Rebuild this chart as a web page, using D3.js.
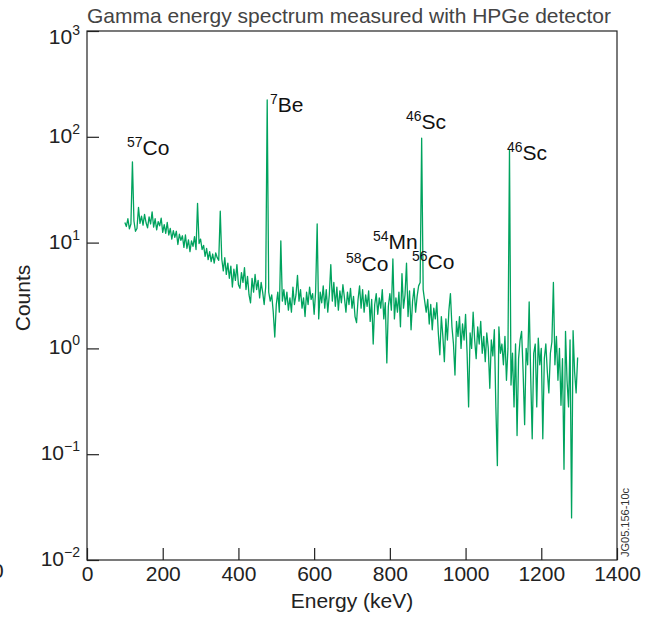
<!DOCTYPE html>
<html>
<head>
<meta charset="utf-8">
<script src="https://cdn.jsdelivr.net/npm/d3@7"></script>
<style>
  html, body { margin: 0; padding: 0; background: #fff; }
  svg { display: block; font-family: "Liberation Sans", Arial, Helvetica, sans-serif; }
</style>
</head>
<body>
<svg id="chart" width="653" height="617"></svg>
<script>
// ---------- data ----------
const energies = [
  100,104,108,112,116,120,124,128,132,136,140,144,148,152,156,160,164,168,172,176,
  180,184,188,192,196,200,204,208,212,216,220,224,228,232,236,240,244,248,252,256,
  260,264,268,272,276,280,284,288,292,296,300,304,308,312,316,320,324,328,332,336,
  340,344,348,352,356,360,364,368,372,376,380,384,388,392,396,400,404,408,412,416,
  420,424,428,432,436,440,444,448,452,456,460,464,468,472,476,480,484,488,492,496,
  500,504,508,512,516,520,524,528,532,536,540,544,548,552,556,560,564,568,572,576,
  580,584,588,592,596,600,604,608,612,616,620,624,628,632,636,640,644,648,652,656,
  660,664,668,672,676,680,684,688,692,696,700,704,708,712,716,720,724,728,732,736,
  740,744,748,752,756,760,764,768,772,776,780,784,788,792,796,800,804,808,812,816,
  820,824,828,832,836,840,844,848,852,856,860,864,868,872,876,880,884,888,892,896,
  900,904,908,912,916,920,924,928,932,936,940,944,948,952,956,960,964,968,972,976,
  980,984,988,992,996,1000,1004,1008,1012,1016,1020,1024,1028,1032,1036,1040,1044,1048,1052,1056,
  1060,1064,1068,1072,1076,1080,1084,1088,1092,1096,1100,1104,1108,1112,1116,1120,1124,1128,1132,1136,
  1140,1144,1148,1152,1156,1160,1164,1168,1172,1176,1180,1184,1188,1192,1196,1200,1204,1208,1212,1216,
  1220,1224,1228,1232,1236,1240,1244,1248,1252,1256,1260,1264,1268,1272,1276,1280,1284,1288,1292,1296
];
const counts = [
  15.5,14.2,16.8,13.5,15.0,58,16.0,12.8,13.6,21.5,
  15.2,17.8,14.6,18.5,15.4,13.8,17.5,15.0,19.5,14.0,
  16.8,13.2,15.8,14.4,17.0,12.5,14.8,12.2,15.5,11.8,
  13.6,10.8,13.0,11.2,12.8,9.6,12.0,10.5,11.6,9.0,
  11.8,8.8,10.6,8.2,10.4,9.2,11.4,8.6,23.5,9.8,
  10.8,8.6,9.4,7.4,8.8,6.9,8.2,6.6,7.8,6.4,
  8.0,7.2,6.8,19.8,7.0,5.4,7.2,5.0,6.4,4.6,
  6.0,3.8,5.6,4.4,6.2,4.0,3.7,5.2,4.2,5.8,
  3.6,4.8,3.2,2.7,4.6,3.4,5.0,3.6,4.4,3.0,
  4.2,3.4,2.6,3.8,223,3.4,2.8,3.2,2.2,1.28,
  2.6,3.4,2.2,10.4,2.8,
  3.6,2.6,3.4,2.3,3.0,2.2,3.8,2.6,3.2,4.9,
  2.8,3.6,2.4,3.0,2.0,3.4,2.6,3.8,2.9,3.3,
  2.1,3.5,15.0,1.9,3.4,2.7,3.9,2.4,3.6,2.2,
  3.2,6.2,2.8,4.2,2.5,3.8,2.3,3.5,2.7,4.0,
  3.0,2.2,3.4,2.6,3.7,2.4,3.1,2.0,1.75,2.9,
  3.9,2.4,3.6,2.2,3.2,2.5,3.5,1.8,2.9,1.1,
  2.6,3.3,2.1,3.0,2.4,3.6,1.9,2.7,0.73,2.5,
  3.3,2.3,7.0,1.9,
  3.0,2.2,3.4,1.6,5.1,2.4,3.2,6.4,2.0,3.5,
  1.5,2.8,3.7,2.2,3.1,3.9,4.2,97,3.6,2.8,
  2.2,2.9,1.7,2.6,1.5,2.4,1.9,2.7,1.4,0.87,
  2.0,1.3,0.75,1.9,1.2,2.3,3.3,1.6,1.1,0.56,
  1.8,1.3,2.0,1.0,1.7,1.2,2.1,0.9,0.28,1.4,
  1.0,2.2,1.2,0.8,1.6,1.1,1.8,0.9,1.3,0.75,
  1.4,1.0,0.42,1.2,0.85,1.5,0.28,0.078,1.6,0.9,
  1.1,0.7,1.3,0.5,1.0,75,0.45,
  0.9,0.28,1.1,0.15,0.8,1.2,1.45,0.6,0.19,1.0,
  0.7,2.75,0.55,0.14,0.9,1.1,0.28,1.25,0.7,1.0,
  0.14,0.8,1.1,0.6,0.38,0.9,1.15,4.2,0.7,1.3,
  0.5,1.0,0.29,0.8,0.072,1.45,0.5,0.28,1.2,0.025,
  1.47,0.6,0.38,0.82
];
const xTicks = [0, 200, 400, 600, 800, 1000, 1200, 1400];
const yTicks = [1e-2, 1e-1, 1e0, 1e1, 1e2, 1e3];
const labelSup  = ["57", "7", "46", "46", "54", "58", "56"];
const labelName = ["Co", "Be", "Sc", "Sc", "Mn", "Co", "Co"];
// annotation layout (pixel position of each label's left edge and baseline)
const labelPos = [[127, 155], [270, 112], [406, 129], [507, 160], [373, 249], [346, 271], [412, 269]];

// ---------- layout ----------
const svg = d3.select("#chart");
const L = 87, R = 617, T = 31, B = 560;
const x = d3.scaleLinear().domain([0, 1400]).range([L, R]);
const y = d3.scaleLog().domain([0.01, 1000]).range([B, T]);
const ink = "#222";
const green = "#00a35e";

// title
svg.append("text").attr("x", L).attr("y", 23)
  .attr("font-size", 21).attr("fill", "#444")
  .text("Gamma energy spectrum measured with HPGe detector");

// axes (inward ticks)
const gx = svg.append("g").attr("transform", `translate(0,${B})`)
  .call(d3.axisBottom(x).tickValues(xTicks).tickSize(-12).tickPadding(6).tickFormat(d3.format("d")));
gx.select(".domain").remove();
gx.selectAll(".tick line").attr("stroke", ink).attr("stroke-width", 1.2);
gx.selectAll(".tick text").attr("font-size", 21).attr("fill", ink).attr("font-family", null);

const gy = svg.append("g").attr("transform", `translate(${L},0)`)
  .call(d3.axisLeft(y).tickValues(yTicks).tickSize(-12).tickFormat(""));
gy.select(".domain").remove();
gy.selectAll(".tick line").attr("stroke", ink).attr("stroke-width", 1.2);

yTicks.forEach(v => {
  const e = Math.round(Math.log10(v));
  const off = v === 1e3 ? 13 : 6;
  const t = svg.append("text").attr("x", 80).attr("y", y(v) + off)
    .attr("text-anchor", "end").attr("font-size", 21).attr("fill", ink);
  t.append("tspan").text("10");
  t.append("tspan").attr("font-size", 14).attr("dy", -9).text(e < 0 ? "\u2212" + Math.abs(e) : String(e));
});

// frame
svg.append("rect").attr("x", L).attr("y", T).attr("width", R - L).attr("height", B - T)
  .attr("fill", "none").attr("stroke", ink).attr("stroke-width", 1.2);

// spectrum line
const data = energies.map((e, i) => ({e, c: counts[i]}));
svg.append("path").datum(data)
  .attr("fill", "none").attr("stroke", green).attr("stroke-width", 1.3)
  .attr("stroke-linejoin", "round")
  .attr("d", d3.line().x(d => x(d.e)).y(d => y(d.c)));

// peak labels
labelSup.forEach((s, i) => {
  const [px, py] = labelPos[i];
  const t = svg.append("text").attr("x", px).attr("y", py)
    .attr("font-size", 21).attr("fill", "#111");
  t.append("tspan").attr("font-size", 14).attr("dy", -8).text(s);
  t.append("tspan").attr("dy", 8).text(labelName[i]);
});

// axis titles
svg.append("text").attr("x", (L + R) / 2).attr("y", 608).attr("text-anchor", "middle")
  .attr("font-size", 21).attr("fill", ink).text("Energy (keV)");
svg.append("text").attr("transform", "translate(30,298) rotate(-90)").attr("text-anchor", "middle")
  .attr("font-size", 21).attr("fill", ink).text("Counts");

// figure code
svg.append("text").attr("transform", "translate(629,557) rotate(-90)")
  .attr("font-size", 11).attr("fill", "#333").text("JG05.156-10c");

// clipped glyph at left edge (as in the reference)
svg.append("text").attr("x", -8).attr("y", 578).attr("font-size", 21).attr("fill", ink).text("0");
</script>
</body>
</html>
